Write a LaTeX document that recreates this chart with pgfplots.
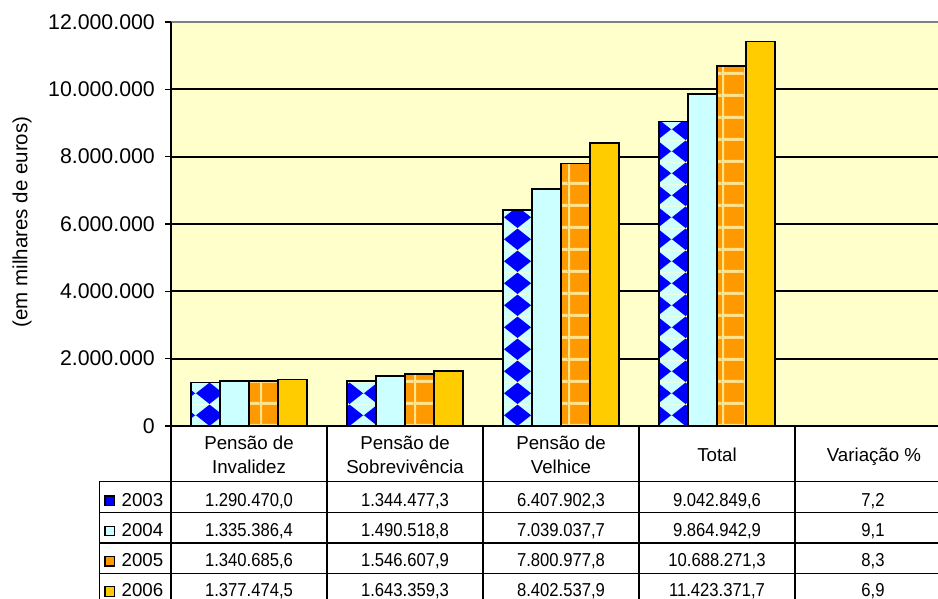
\documentclass[border=0pt]{standalone}
\usepackage{pgfplots}
\pgfplotsset{compat=1.18}
\usepackage{pgfplotstable}
\usepackage{fontspec}
\setmainfont{Liberation Sans}
\usetikzlibrary{patterns.meta}
\usepackage{graphicx}

\definecolor{cBlue}{RGB}{0,0,255}
\definecolor{cCyan}{RGB}{204,255,255}
\definecolor{cOrange}{RGB}{255,153,0}
\definecolor{cGold}{RGB}{255,204,0}
\definecolor{cBg}{RGB}{255,255,204}
\definecolor{cLine}{RGB}{255,228,140}
\definecolor{cTop}{RGB}{128,128,128}

\pgfdeclarepattern{
  name=xdiamond,
  type=colored,
  bottom left={\pgfpoint{0pt}{0pt}},
  top right={\pgfpoint{28pt}{21.7pt}},
  tile size={\pgfpoint{28pt}{21.7pt}},
  code={
    \pgfsetfillcolor{cCyan}
    \pgfpathrectangle{\pgfpoint{0pt}{0pt}}{\pgfpoint{28pt}{21.7pt}}
    \pgfusepath{fill}
    \pgfsetfillcolor{cBlue}
    \pgfpathmoveto{\pgfpoint{0pt}{10.85pt}}
    \pgfpathlineto{\pgfpoint{14pt}{0pt}}
    \pgfpathlineto{\pgfpoint{28pt}{10.85pt}}
    \pgfpathlineto{\pgfpoint{14pt}{21.7pt}}
    \pgfpathclose
    \pgfusepath{fill}
  }
}
\pgfdeclarepattern{
  name=xgrid,
  type=colored,
  bottom left={\pgfpoint{0pt}{0pt}},
  top right={\pgfpoint{21.7pt}{21.7pt}},
  tile size={\pgfpoint{21.7pt}{21.7pt}},
  code={
    \pgfsetfillcolor{cOrange}
    \pgfpathrectangle{\pgfpoint{0pt}{0pt}}{\pgfpoint{21.7pt}{21.7pt}}
    \pgfusepath{fill}
    \pgfsetfillcolor{cLine}
    \pgfpathrectangle{\pgfpoint{0pt}{0pt}}{\pgfpoint{2.2pt}{21.7pt}}
    \pgfusepath{fill}
    \pgfpathrectangle{\pgfpoint{0pt}{0pt}}{\pgfpoint{21.7pt}{2.2pt}}
    \pgfusepath{fill}
  }
}

\pgfplotstableread{
cat y2003 y2004 y2005 y2006
0 1290470.0 1335386.4 1340685.6 1377474.5
1 1344477.3 1490518.8 1546607.9 1643359.3
2 6407902.3 7039037.7 7800977.8 8402537.9
3 9042849.6 9864942.9 10688271.3 11423371.7
4 7.2 9.1 8.3 6.9
}\datatable

\newcommand{\tf}{\fontsize{18.7}{22}\selectfont}
\newcommand{\num}[1]{\scalebox{0.89}[1]{#1}}

\begin{document}
\begin{tikzpicture}[x=1pt,y=1pt]
\path[use as bounding box] (0,0) rectangle (938,599);
\begin{scope}
\clip (0,0) rectangle (938,599);
\begin{axis}[
  at={(171pt,173pt)}, anchor=south west,
  scale only axis, width=780pt, height=404pt,
  xmin=-0.5, xmax=4.5, ymin=0, ymax=12000000,
  axis background/.style={fill=cBg},
  axis line style={draw=none},
  ybar=0pt, bar width=29pt,
  xtick=\empty,
  ytick={0,2000000,4000000,6000000,8000000,10000000,12000000},
  yticklabels={0,2.000.000,4.000.000,6.000.000,8.000.000,10.000.000,12.000.000},
  scaled y ticks=false,
  ymajorgrids, grid style={black, line width=1.7pt},
  ytick pos=left, tick align=outside, major tick length=5.5pt,
  tick style={black, line width=1.5pt},
  yticklabel style={font=\fontsize{21.3}{24}\selectfont, inner sep=0pt, xshift=-10.5pt},
  /pgf/number format/assume math mode=true,
]
\addplot[draw=black, line width=1.7pt, pattern=xdiamond] table[x=cat,y=y2003]{\datatable};
\addplot[draw=black, line width=1.7pt, fill=cCyan] table[x=cat,y=y2004]{\datatable};
\addplot[draw=black, line width=1.7pt, pattern=xgrid] table[x=cat,y=y2005]{\datatable};
\addplot[draw=black, line width=1.7pt, fill=cGold] table[x=cat,y=y2006]{\datatable};
\end{axis}
% plot border
\draw[cTop, line width=1.3pt] (171,577) -- (960,577);
\draw[black, line width=2pt] (171,577) -- (171,0);
\draw[black, line width=2pt] (165,173) -- (960,173);
% table lines
\foreach \yy in {117.5,86.5,56,25.5} \draw[black, line width=1.6pt] (99.3,\yy) -- (960,\yy);
\draw[black, line width=1.6pt] (99.3,117.5) -- (99.3,0);
\foreach \xx in {327,483,639,795} \draw[black, line width=1.6pt] (\xx,173) -- (\xx,0);
% y label
\node[rotate=90, font=\fontsize{20.5}{22}\selectfont] at (22,377) {(em milhares de euros)};
% header
\node[anchor=base, font=\tf] at (249,149) {Pensão de};
\node[anchor=base, font=\tf] at (249,125.7) {Invalidez};
\node[anchor=base, font=\tf] at (405,149) {Pensão de};
\node[anchor=base, font=\tf] at (405,125.7) {Sobrevivência};
\node[anchor=base, font=\tf] at (561,149) {Pensão de};
\node[anchor=base, font=\tf] at (561,125.7) {Velhice};
\node[anchor=base, font=\tf] at (717,137.3) {Total};
\node[anchor=base, font=\tf] at (874,137.3) {Variação \%};
% legend keys and row labels
\draw[black, line width=1.2pt, fill=cBlue] (105,93.5) rectangle (114.5,103);
\draw[black, line width=1.2pt, fill=cCyan] (105,63.2) rectangle (114.5,72.7);
\draw[black, line width=1.2pt, fill=cOrange] (105,32.9) rectangle (114.5,42.4);
\draw[black, line width=1.2pt, fill=cGold] (105,2.6) rectangle (114.5,12.1);
\node[anchor=base west, font=\tf, inner sep=0pt] at (121.5,92.3) {2003};
\node[anchor=base west, font=\tf, inner sep=0pt] at (121.5,62.3) {2004};
\node[anchor=base west, font=\tf, inner sep=0pt] at (121.5,32.3) {2005};
\node[anchor=base west, font=\tf, inner sep=0pt] at (121.5,2.3) {2006};
% row 2003
\node[anchor=base, font=\tf] at (249,92.3) {\num{1.290.470,0}};
\node[anchor=base, font=\tf] at (405,92.3) {\num{1.344.477,3}};
\node[anchor=base, font=\tf] at (561,92.3) {\num{6.407.902,3}};
\node[anchor=base, font=\tf] at (717,92.3) {\num{9.042.849,6}};
\node[anchor=base, font=\tf] at (873,92.3) {\num{7,2}};
% row 2004
\node[anchor=base, font=\tf] at (249,62.3) {\num{1.335.386,4}};
\node[anchor=base, font=\tf] at (405,62.3) {\num{1.490.518,8}};
\node[anchor=base, font=\tf] at (561,62.3) {\num{7.039.037,7}};
\node[anchor=base, font=\tf] at (717,62.3) {\num{9.864.942,9}};
\node[anchor=base, font=\tf] at (873,62.3) {\num{9,1}};
% row 2005
\node[anchor=base, font=\tf] at (249,32.3) {\num{1.340.685,6}};
\node[anchor=base, font=\tf] at (405,32.3) {\num{1.546.607,9}};
\node[anchor=base, font=\tf] at (561,32.3) {\num{7.800.977,8}};
\node[anchor=base, font=\tf] at (717,32.3) {\num{10.688.271,3}};
\node[anchor=base, font=\tf] at (873,32.3) {\num{8,3}};
% row 2006
\node[anchor=base, font=\tf] at (249,2.3) {\num{1.377.474,5}};
\node[anchor=base, font=\tf] at (405,2.3) {\num{1.643.359,3}};
\node[anchor=base, font=\tf] at (561,2.3) {\num{8.402.537,9}};
\node[anchor=base, font=\tf] at (717,2.3) {\num{11.423.371,7}};
\node[anchor=base, font=\tf] at (873,2.3) {\num{6,9}};
\end{scope}
\end{tikzpicture}
\end{document}
